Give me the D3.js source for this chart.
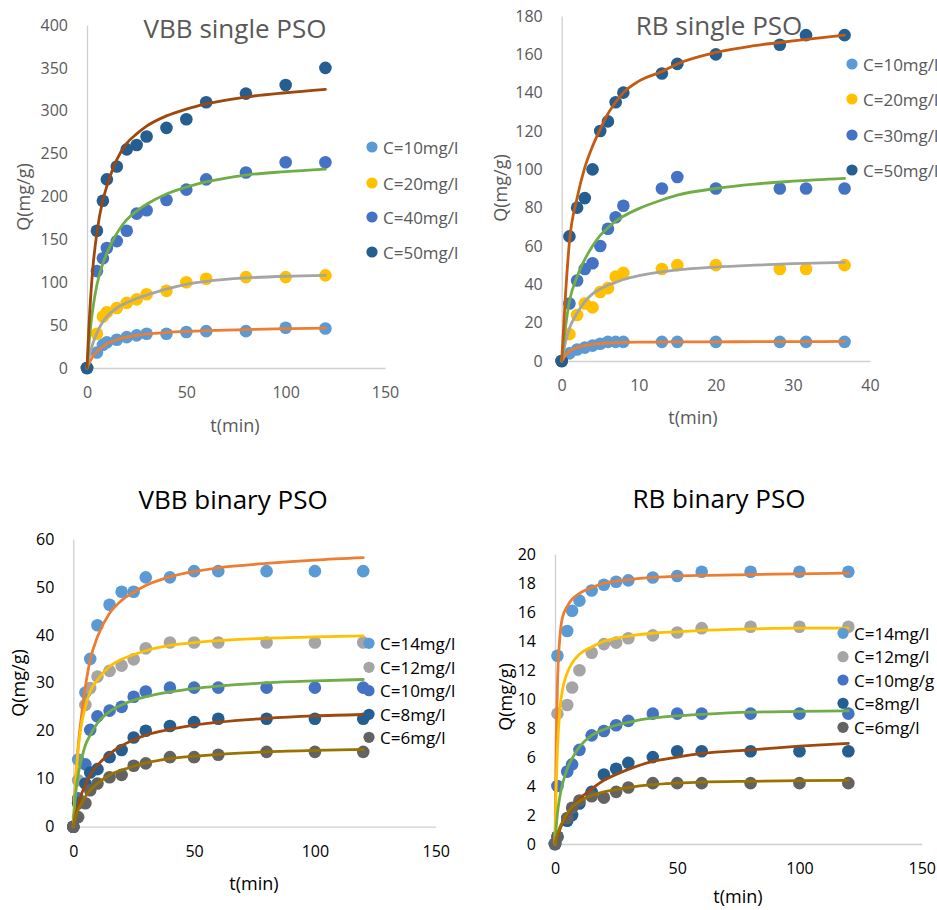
<!DOCTYPE html>
<html>
<head>
<meta charset="utf-8">
<script src="https://cdn.jsdelivr.net/npm/d3@7"></script>
<style>
  body { margin: 0; background: #fff; }
  svg { display: block; }
  text { font-family: "Open Sans", sans-serif; }
</style>
</head>
<body>
<svg id="chart" width="937" height="910"></svg>
<script>
// ---------- VBB single (PSO kinetics) ----------
const vbbSingleTime = [0, 5, 8, 10, 15, 20, 25, 30, 40, 50, 60, 80, 100, 120];
const vbbSingleC10 = [0, 18, 27, 30, 33, 36, 38, 40, 40, 42, 43, 43, 47, 46];
const vbbSingleC20 = [0, 40, 60, 65, 70, 76, 80, 86, 90, 100, 104, 106, 106, 108];
const vbbSingleC40 = [0, 113, 128, 140, 148, 160, 180, 184, 196, 208, 220, 228, 240, 240];
const vbbSingleC50 = [0, 160, 195, 220, 235, 255, 260, 270, 280, 290, 310, 320, 330, 350];
const vbbSingleFitTime = [0, 1, 2, 3, 5, 8, 10, 15, 20, 25, 30, 40, 50, 60, 80, 100, 120];
const vbbSingleFitC10 = [0, 5, 9.7, 13.6, 19.4, 25, 28.3, 33, 36, 38, 39.6, 41.5, 42.7, 43.5, 44.8, 45.8, 46.6];
const vbbSingleFitC20 = [0, 12, 21, 29, 41, 54, 60, 70, 76, 81, 85, 92, 97.5, 101, 105, 107, 108];
const vbbSingleFitC40 = [0, 28, 52, 70, 97, 122, 134, 157, 173, 183, 191, 203, 211, 217, 225, 229, 232];
const vbbSingleFitC50 = [0, 50, 88, 118, 158, 196, 212, 243, 262, 273, 282, 294, 302, 308, 316, 321, 325];

// ---------- RB single (PSO kinetics) ----------
const rbSingleTime = [0, 1, 2, 3, 4, 5, 6, 7, 8, 13, 15, 20, 28.3, 31.7, 36.7];
const rbSingleC10 = [0, 4, 6, 7, 8, 9, 10, 10, 10, 10, 10, 10, 10, 10, 10];
const rbSingleC20 = [0, 14, 24, 30, 28, 36, 38, 44, 46, 48, 50, 50, 48, 48, 50];
const rbSingleC30 = [0, 30, 42, 48, 51, 60, 69, 75, 81, 90, 96, 90, 90, 90, 90];
const rbSingleC50 = [0, 65, 80, 85, 100, 120, 125, 135, 140, 150, 155, 160, 165, 170, 170];
const rbSingleFitTime = [0, 0.5, 1, 2, 3, 4, 5, 6, 7, 8, 10, 13, 15, 20, 25, 30, 36.7];
const rbSingleFitC10 = [0, 3, 5, 7, 8, 8.7, 9.1, 9.4, 9.6, 9.7, 9.8, 9.9, 10, 10, 10.1, 10.1, 10.2];
const rbSingleFitC20 = [0, 10, 17, 25, 31, 35, 37.5, 39.5, 41, 42.5, 44.5, 46.5, 47.5, 49, 50, 50.8, 51.5];
const rbSingleFitC30 = [0, 18, 31, 44, 53, 60, 65.5, 69.5, 73, 75.5, 79.5, 84, 86.5, 90, 92.3, 93.8, 95.3];
const rbSingleFitC50 = [0, 35, 62, 85, 101, 112, 121, 129, 135, 140, 146, 151, 155, 161, 164.5, 167, 170];

// ---------- VBB binary (PSO kinetics) ----------
const vbbBinaryTime = [0, 2, 5, 7, 10, 15, 20, 25, 30, 40, 50, 60, 80, 100, 120];
const vbbBinaryC14 = [0, 14, 28, 35, 42, 46.3, 49, 49, 52, 52, 53.3, 53.3, 53.3, 53.3, 53.3];
const vbbBinaryC12 = [0, 9.7, 25.4, 28.9, 31.3, 32.5, 33.6, 34.9, 37.2, 38.4, 38.4, 38.4, 38.4, 38.4, 38.4];
const vbbBinaryC10 = [0, 5.9, 13, 20.2, 23, 24.2, 25, 27.1, 28.2, 29, 29, 29, 29, 29, 29];
const vbbBinaryC8 = [0, 4.9, 9, 11.3, 12, 14.5, 16, 18.6, 20, 21, 21.8, 22.5, 22.5, 22.5, 22.5];
const vbbBinaryC6 = [0, 2, 4.9, 7.6, 9, 10.3, 10.8, 12.7, 13.2, 14.5, 14.5, 15, 15.6, 15.6, 15.6];
const vbbBinaryFitTime = [0, 1, 2, 3, 5, 7, 10, 15, 20, 25, 30, 40, 50, 60, 80, 100, 120];
const vbbBinaryFitC14 = [0, 9.7, 16.7, 21.5, 29.2, 34.8, 39.6, 44.5, 47.2, 48.9, 50.3, 52.1, 53.2, 54, 54.9, 55.6, 56.1];
const vbbBinaryFitC12 = [0, 9.7, 16, 20.2, 25, 28.2, 30.6, 33.4, 34.9, 35.9, 36.7, 37.8, 38.4, 38.8, 39.3, 39.6, 39.8];
const vbbBinaryFitC10 = [0, 7, 10.8, 13.2, 17, 19.1, 21.6, 24, 25.4, 26.4, 27.1, 28.1, 28.8, 29.3, 30, 30.4, 30.7];
const vbbBinaryFitC8 = [0, 2.5, 4.5, 6.2, 8.8, 10.8, 12.8, 15.2, 16.9, 18.1, 19.1, 20.3, 21.2, 21.8, 22.6, 23.1, 23.4];
const vbbBinaryFitC6 = [0, 2.1, 3.5, 4.5, 6.3, 7.6, 9, 10.8, 11.8, 12.6, 13.3, 14.2, 14.7, 15.1, 15.6, 15.9, 16.1];

// ---------- RB binary (PSO kinetics) ----------
const rbBinaryTime = [0, 1, 5, 7, 10, 15, 20, 25, 30, 40, 50, 60, 80, 100, 120];
const rbBinaryC14 = [0, 13, 14.7, 16.1, 16.8, 17.5, 17.9, 18.1, 18.2, 18.4, 18.5, 18.8, 18.8, 18.8, 18.8];
const rbBinaryC12 = [0, 9, 9.6, 10.8, 12, 13.2, 13.8, 13.9, 14.2, 14.4, 14.6, 14.9, 15, 15, 15];
const rbBinaryC10 = [0, 4, 5, 5.5, 6.5, 7.5, 7.8, 8.2, 8.5, 9, 9, 9, 9, 9, 9];
const rbBinaryC8 = [0, 0.5, 1.6, 2, 2.8, 3.6, 4.8, 5.2, 5.6, 6, 6.4, 6.4, 6.4, 6.4, 6.4];
const rbBinaryC6 = [0, 0.5, 1.8, 2.5, 3, 3.3, 3.2, 3.6, 3.9, 4.2, 4.2, 4.2, 4.2, 4.2, 4.2];
const rbBinaryFitTime = [0, 0.5, 1, 2, 3, 5, 7, 10, 15, 20, 25, 30, 40, 50, 60, 80, 100, 120];
const rbBinaryFitC14 = [0, 7, 11, 14.3, 15.6, 16.4, 16.9, 17.3, 17.7, 18, 18.15, 18.25, 18.4, 18.5, 18.55, 18.6, 18.65, 18.7];
const rbBinaryFitC12 = [0, 4, 6.5, 9.3, 10.6, 11.8, 12.5, 13.1, 13.6, 14, 14.2, 14.35, 14.55, 14.65, 14.75, 14.85, 14.9, 14.9];
const rbBinaryFitC10 = [0, 1.2, 2.1, 3.3, 4.1, 5.2, 5.9, 6.7, 7.5, 7.9, 8.2, 8.4, 8.7, 8.85, 8.95, 9.1, 9.15, 9.2];
const rbBinaryFitC8 = [0, 0.3, 0.55, 1.0, 1.4, 2.0, 2.5, 3.1, 3.8, 4.4, 4.8, 5.15, 5.7, 6.0, 6.25, 6.5, 6.75, 6.95];
const rbBinaryFitC6 = [0, 0.35, 0.65, 1.15, 1.5, 2.1, 2.55, 2.95, 3.35, 3.6, 3.75, 3.9, 4.1, 4.2, 4.27, 4.33, 4.37, 4.4];

// ---------- shared styling ----------
const colors = {
  lightBlue: "#5B9BD5", orange: "#ED7D31", gray: "#A5A5A5", gold: "#FFC000",
  blue: "#4472C4", green: "#70AD47", navy: "#255E91", brown: "#9E480E",
  rust: "#C55A11", darkGray: "#636363", olive: "#997300"
};
const xTicks150 = [0, 50, 100, 150];
const xTicks40 = [0, 10, 20, 30, 40];
const yTicks400 = d3.range(0, 401, 50);
const yTicks180 = d3.range(0, 181, 20);
const yTicks60 = d3.range(0, 61, 10);
const yTicks20 = d3.range(0, 21, 2);

const svg = d3.select("#chart");

function drawPanel(p) {
  const g = svg.append("g");
  const x = d3.scaleLinear().domain(p.xDomain).range(p.xRange);
  const y = d3.scaleLinear().domain(p.yDomain).range(p.yRange);

  const xAxis = d3.axisBottom(x).tickValues(p.xTicks).tickSize(0).tickPadding(19).tickSizeOuter(0);
  const yAxis = d3.axisLeft(y).tickValues(p.yTicks).tickSize(0).tickPadding(19).tickSizeOuter(0);

  const gx = g.append("g").attr("transform", `translate(0,${p.yRange[0]})`).call(xAxis);
  const gy = g.append("g").attr("transform", `translate(${p.xRange[0]},0)`).call(yAxis);
  [gx, gy].forEach(a => {
    a.select(".domain").attr("stroke", "#D0D0D0").attr("stroke-width", 1.3);
    a.selectAll("text").attr("fill", p.textColor).style("font-size", "16px")
      .style("font-family", '"Open Sans", sans-serif');
  });

  // scatter points
  p.series.forEach(s => {
    g.append("g").selectAll("circle")
      .data(s.t.map((t, i) => [t, s.q[i]]))
      .join("circle")
      .attr("cx", d => x(d[0]))
      .attr("cy", d => y(d[1]))
      .attr("r", 6.3)
      .attr("fill", s.color);
  });

  // fitted PSO curves
  const line = d3.line().x(d => x(d[0])).y(d => y(d[1])).curve(d3.curveMonotoneX);
  p.fits.forEach(f => {
    g.append("path")
      .datum(f.t.map((t, i) => [t, f.q[i]]))
      .attr("d", line)
      .attr("fill", "none")
      .attr("stroke", f.color)
      .attr("stroke-width", 2.8)
      .attr("stroke-linecap", "round");
  });

  // title and axis titles
  g.append("text").attr("x", p.title.x).attr("y", p.title.y)
    .attr("text-anchor", "middle").attr("dominant-baseline", "central")
    .attr("fill", p.titleColor).style("font-size", "26px").text(p.title.text);
  g.append("text").attr("x", p.xLabel[0]).attr("y", p.xLabel[1])
    .attr("text-anchor", "middle").attr("dominant-baseline", "central")
    .attr("fill", p.textColor).style("font-size", "18px").text("t(min)");
  g.append("text")
    .attr("transform", `translate(${p.yLabel[0]},${p.yLabel[1]}) rotate(-90)`)
    .attr("text-anchor", "middle").attr("dominant-baseline", "central")
    .attr("fill", p.textColor).style("font-size", "18px").text("Q(mg/g)");

  // legend
  const lg = g.append("g");
  p.series.forEach((s, i) => {
    const ly = p.legend.rows[i];
    lg.append("circle").attr("cx", p.legend.x).attr("cy", ly).attr("r", 5.6).attr("fill", s.color);
    lg.append("text").attr("x", p.legend.x + 11).attr("y", ly)
      .attr("dominant-baseline", "central").attr("fill", p.textColor)
      .style("font-size", "17px").text(s.name);
  });
}

drawPanel({
  title: { text: "VBB single PSO", x: 235, y: 28 },
  titleColor: "#595959", textColor: "#595959",
  xDomain: [0, 150], xRange: [87, 385], xTicks: xTicks150,
  yDomain: [0, 400], yRange: [368, 25], yTicks: yTicks400,
  xLabel: [235, 425], yLabel: [23, 197],
  legend: { x: 372, rows: [147, 183, 217, 252] },
  series: [
    { name: "C=10mg/l", color: colors.lightBlue, t: vbbSingleTime, q: vbbSingleC10 },
    { name: "C=20mg/l", color: colors.gold, t: vbbSingleTime, q: vbbSingleC20 },
    { name: "C=40mg/l", color: colors.blue, t: vbbSingleTime, q: vbbSingleC40 },
    { name: "C=50mg/l", color: colors.navy, t: vbbSingleTime, q: vbbSingleC50 }
  ],
  fits: [
    { color: colors.orange, t: vbbSingleFitTime, q: vbbSingleFitC10 },
    { color: colors.gray, t: vbbSingleFitTime, q: vbbSingleFitC20 },
    { color: colors.green, t: vbbSingleFitTime, q: vbbSingleFitC40 },
    { color: colors.brown, t: vbbSingleFitTime, q: vbbSingleFitC50 }
  ]
});

drawPanel({
  title: { text: "RB single PSO", x: 719, y: 25 },
  titleColor: "#595959", textColor: "#595959",
  xDomain: [0, 40], xRange: [561.7, 870], xTicks: xTicks40,
  yDomain: [0, 180], yRange: [361, 16], yTicks: yTicks180,
  xLabel: [693, 417], yLabel: [500, 188],
  legend: { x: 852, rows: [64, 99, 135, 170] },
  series: [
    { name: "C=10mg/l", color: colors.lightBlue, t: rbSingleTime, q: rbSingleC10 },
    { name: "C=20mg/l", color: colors.gold, t: rbSingleTime, q: rbSingleC20 },
    { name: "C=30mg/l", color: colors.blue, t: rbSingleTime, q: rbSingleC30 },
    { name: "C=50mg/l", color: colors.navy, t: rbSingleTime, q: rbSingleC50 }
  ],
  fits: [
    { color: colors.orange, t: rbSingleFitTime, q: rbSingleFitC10 },
    { color: colors.gray, t: rbSingleFitTime, q: rbSingleFitC20 },
    { color: colors.green, t: rbSingleFitTime, q: rbSingleFitC30 },
    { color: colors.rust, t: rbSingleFitTime, q: rbSingleFitC50 }
  ]
});

drawPanel({
  title: { text: "VBB binary PSO", x: 233, y: 499 },
  titleColor: "#000000", textColor: "#000000",
  xDomain: [0, 150], xRange: [73.3, 435.7], xTicks: xTicks150,
  yDomain: [0, 60], yRange: [826.7, 539], yTicks: yTicks60,
  xLabel: [254, 883], yLabel: [18, 683],
  legend: { x: 369, rows: [643.3, 667.3, 690.7, 714.3, 737.3] },
  series: [
    { name: "C=14mg/l", color: colors.lightBlue, t: vbbBinaryTime, q: vbbBinaryC14 },
    { name: "C=12mg/l", color: colors.gray, t: vbbBinaryTime, q: vbbBinaryC12 },
    { name: "C=10mg/l", color: colors.blue, t: vbbBinaryTime, q: vbbBinaryC10 },
    { name: "C=8mg/l", color: colors.navy, t: vbbBinaryTime, q: vbbBinaryC8 },
    { name: "C=6mg/l", color: colors.darkGray, t: vbbBinaryTime, q: vbbBinaryC6 }
  ],
  fits: [
    { color: colors.orange, t: vbbBinaryFitTime, q: vbbBinaryFitC14 },
    { color: colors.gold, t: vbbBinaryFitTime, q: vbbBinaryFitC12 },
    { color: colors.green, t: vbbBinaryFitTime, q: vbbBinaryFitC10 },
    { color: colors.brown, t: vbbBinaryFitTime, q: vbbBinaryFitC8 },
    { color: colors.olive, t: vbbBinaryFitTime, q: vbbBinaryFitC6 }
  ]
});

drawPanel({
  title: { text: "RB binary PSO", x: 719, y: 498 },
  titleColor: "#000000", textColor: "#000000",
  xDomain: [0, 150], xRange: [555, 921.7], xTicks: xTicks150,
  yDomain: [0, 20], yRange: [844, 554.3], yTicks: yTicks20,
  xLabel: [738, 896], yLabel: [505, 697],
  legend: { x: 843, rows: [633.3, 656.7, 680, 703.3, 727.3] },
  series: [
    { name: "C=14mg/l", color: colors.lightBlue, t: rbBinaryTime, q: rbBinaryC14 },
    { name: "C=12mg/l", color: colors.gray, t: rbBinaryTime, q: rbBinaryC12 },
    { name: "C=10mg/g", color: colors.blue, t: rbBinaryTime, q: rbBinaryC10 },
    { name: "C=8mg/l", color: colors.navy, t: rbBinaryTime, q: rbBinaryC8 },
    { name: "C=6mg/l", color: colors.darkGray, t: rbBinaryTime, q: rbBinaryC6 }
  ],
  fits: [
    { color: colors.orange, t: rbBinaryFitTime, q: rbBinaryFitC14 },
    { color: colors.gold, t: rbBinaryFitTime, q: rbBinaryFitC12 },
    { color: colors.green, t: rbBinaryFitTime, q: rbBinaryFitC10 },
    { color: colors.brown, t: rbBinaryFitTime, q: rbBinaryFitC8 },
    { color: colors.olive, t: rbBinaryFitTime, q: rbBinaryFitC6 }
  ]
});
</script>
</body>
</html>
